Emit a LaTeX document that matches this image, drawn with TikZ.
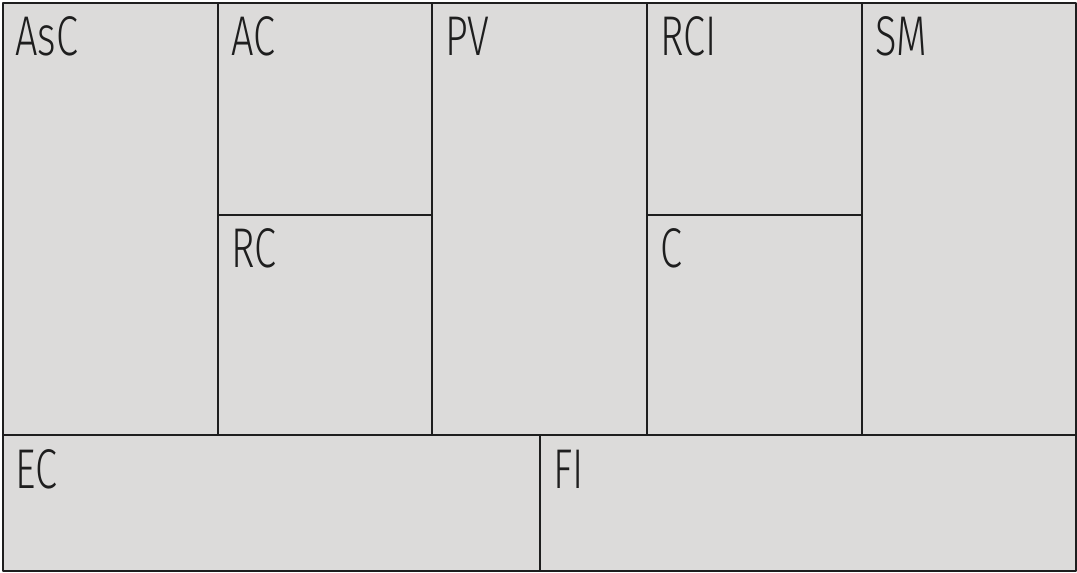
\documentclass[tikz,border=0pt]{standalone}
\usepackage{fontspec}
\setmainfont{Fira Sans Light}[FakeStretch=0.71]
\definecolor{cellgray}{HTML}{DCDBDA}
\definecolor{edgegray}{HTML}{1E1E1E}
\begin{document}
\begin{tikzpicture}[x=0.75pt, y=-0.75pt, line join=round, font=\fontsize{42}{42}\selectfont]
	\tikzset{cell/.style={draw=edgegray, fill=cellgray, line width=1.5pt},
		lbl/.style={anchor=base west, inner sep=0pt, text=edgegray}}
	\useasboundingbox (0,0) rectangle (1077,573);
	\draw[cell] (3,3) rectangle (218,435);
	\draw[cell] (218,3) rectangle (432,215);
	\draw[cell] (218,215) rectangle (432,435);
	\draw[cell] (432,3) rectangle (647,435);
	\draw[cell] (647,3) rectangle (862,215);
	\draw[cell] (647,215) rectangle (862,435);
	\draw[cell] (862,3) rectangle (1076,435);
	\draw[cell] (3,435) rectangle (540,571);
	\draw[cell] (540,435) rectangle (1076,571);
	\node[lbl] (asc) at (15,56) {AsC};
	\node[lbl] (ac) at (231,56) {AC};
	\node[lbl] (rc) at (231,268) {RC};
	\node[lbl] (pv) at (445,56) {PV};
	\node[lbl] (rci) at (660,56) {RCI};
	\node[lbl] (c) at (660,268) {C};
	\node[lbl] (sm) at (875,56) {SM};
	\node[lbl] (ec) at (15,488) {EC};
	\node[lbl] (fi) at (553,488) {FI};
\end{tikzpicture}
\end{document}
